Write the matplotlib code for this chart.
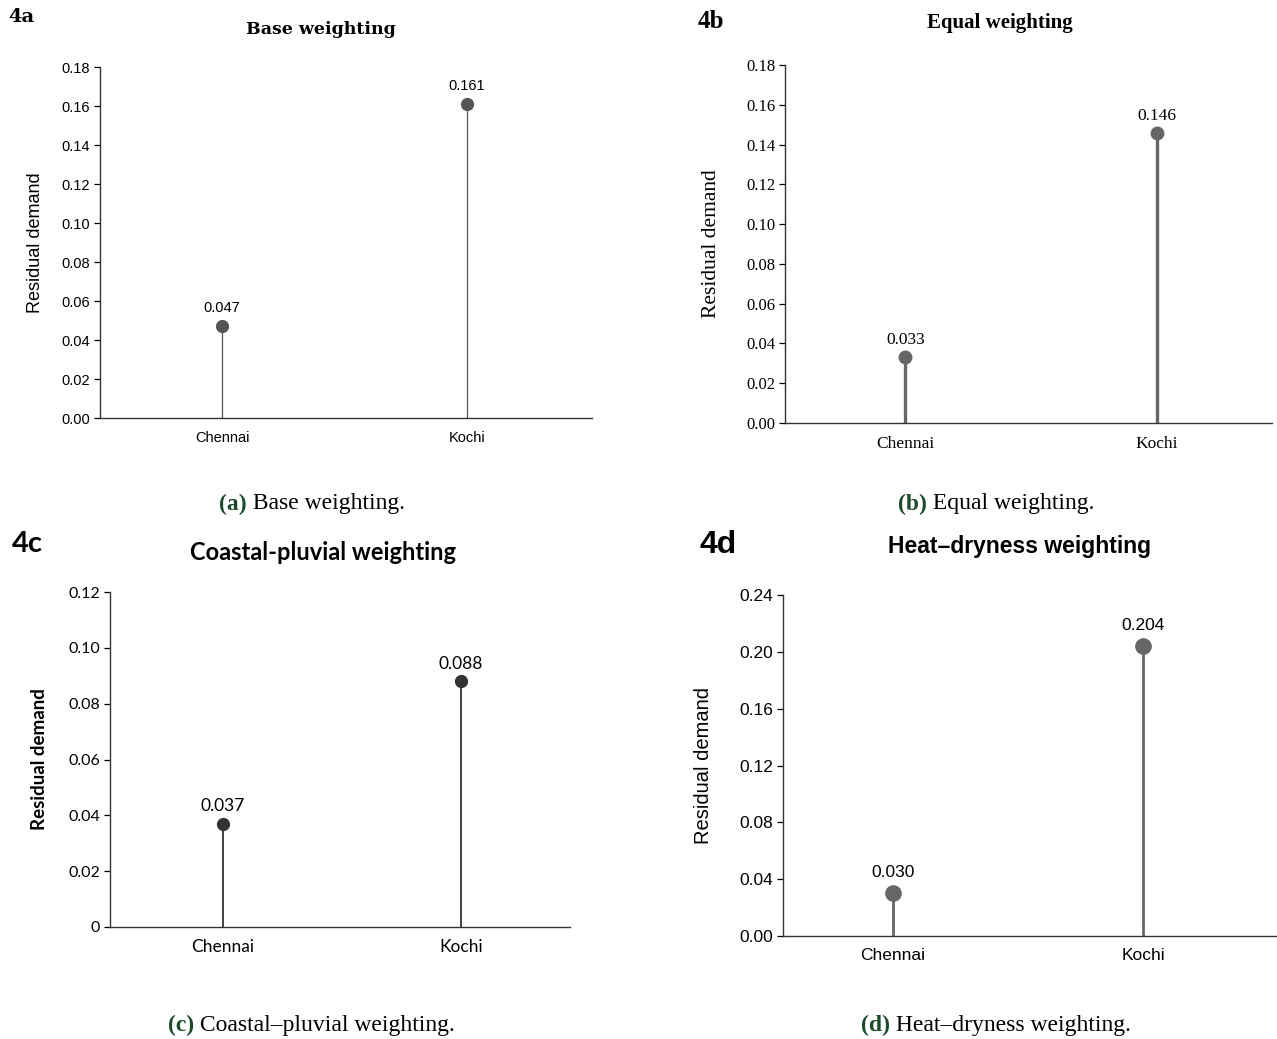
import matplotlib.pyplot as plt

# 데이터
cities = ["Chennai", "Kochi"]
base_vals = [0.047, 0.161]
equal_vals = [0.033, 0.146]
coastal_vals = [0.037, 0.088]
heat_vals = [0.030, 0.204]

base_ticks = [0.00, 0.02, 0.04, 0.06, 0.08, 0.10, 0.12, 0.14, 0.16, 0.18]
equal_ticks = [0.00, 0.02, 0.04, 0.06, 0.08, 0.10, 0.12, 0.14, 0.16, 0.18]
coastal_ticks = [0, 0.02, 0.04, 0.06, 0.08, 0.10, 0.12]
coastal_ticklabels = ["0", "0.02", "0.04", "0.06", "0.08", "0.10", "0.12"]
heat_ticks = [0.00, 0.04, 0.08, 0.12, 0.16, 0.20, 0.24]

W, H = 1277, 1039
fig = plt.figure(figsize=(W / 100, H / 100), dpi=100)


def px_axes(x0, x1, y_top, y_bot):
    return fig.add_axes([x0 / W, 1 - y_bot / H, (x1 - x0) / W, (y_bot - y_top) / H])


def lollipop(ax, vals, ticks, ticklabels, xlim, font, tick_size, val_size, lab_size,
             color, lw, ms, val_offset):
    x = list(range(len(vals)))
    ax.vlines(x, 0, vals, color=color, lw=lw, zorder=2)
    ax.plot(x, vals, "o", color=color, ms=ms, zorder=3)
    for xi, v in zip(x, vals):
        ax.annotate(f"{v:.3f}", (xi, v), xytext=(0, val_offset), textcoords="offset points",
                    ha="center", va="bottom", family=font, fontsize=val_size)
    ax.set_xlim(*xlim)
    ax.set_ylim(ticks[0], ticks[-1])
    ax.set_yticks(ticks)
    ax.set_yticklabels(ticklabels if ticklabels else [f"{t:.2f}" for t in ticks],
                       family=font, fontsize=tick_size)
    ax.set_xticks(x)
    ax.set_xticklabels(cities, family=font, fontsize=val_size)
    ax.tick_params(axis="x", length=0, pad=9)
    ax.tick_params(axis="y", length=4, width=0.9, direction="out", pad=3)
    for s in ["top", "right"]:
        ax.spines[s].set_visible(False)
    for s in ["left", "bottom"]:
        ax.spines[s].set_linewidth(1.0)
        ax.spines[s].set_color("#333333")
    ax.set_ylabel("Residual demand", family=font, fontsize=lab_size)


# (a)
ax = px_axes(100, 592, 67, 418)
lollipop(ax, base_vals, base_ticks, None, (-0.498, 1.51), "Liberation Sans", 10.5, 10.5, 13,
         "#555555", 0.9, 8.5, 8)
ax.yaxis.set_label_coords(-0.114, 0.5)
fig.text(8 / W, 1 - 17 / H, "4a", family="DejaVu Serif", weight="bold", fontsize=14, va="center")
fig.text(321 / W, 1 - 29 / H, "Base weighting", family="DejaVu Serif", weight="bold",
         fontsize=12.5, ha="center", va="center")

# (b)
ax = px_axes(785, 1272, 65, 423)
lollipop(ax, equal_vals, equal_ticks, None, (-0.48, 1.46), "Liberation Serif", 12, 12.5, 15.5,
         "#666666", 2.4, 9, 6.5)
ax.yaxis.set_label_coords(-0.131, 0.5)
fig.text(698 / W, 1 - 22 / H, "4b", family="Liberation Serif", weight="bold", fontsize=18, va="center")
fig.text(1000 / W, 1 - 23 / H, "Equal weighting", family="Liberation Serif", weight="bold",
         fontsize=15, ha="center", va="center")

# (c)
ax = px_axes(110, 570, 592, 927)
lollipop(ax, coastal_vals, coastal_ticks, coastal_ticklabels, (-0.475, 1.458), "Lato", 11.5, 12.5, 13.5,
         "#333333", 1.3, 8.5, 7)
ax.yaxis.label.set_weight("bold")
ax.yaxis.set_label_coords(-0.135, 0.5)
fig.text(12 / W, 1 - 544 / H, "4c", family="Lato", weight="bold", fontsize=21, va="center")
fig.text(323 / W, 1 - 552 / H, "Coastal-pluvial weighting", family="Lato", weight="bold",
         fontsize=17, ha="center", va="center")

# (d)
ax = px_axes(783, 1277, 595, 936)
lollipop(ax, heat_vals, heat_ticks, None, (-0.44, 1.536), "Liberation Sans", 12.5, 12.5, 14.5,
         "#666666", 2.0, 11, 9.5)
ax.yaxis.set_label_coords(-0.142, 0.5)
fig.text(700 / W, 1 - 545 / H, "4d", family="Liberation Sans", weight="bold", fontsize=23, va="center")
fig.text(1020 / W, 1 - 547 / H, "Heat\u2013dryness weighting", family="Liberation Sans", weight="bold",
         fontsize=16.5, ha="center", va="center")

# captions
captions = [("(a)", " Base weighting.", 312, 504),
            ("(b)", " Equal weighting.", 996, 504),
            ("(c)", " Coastal\u2013pluvial weighting.", 311, 1025),
            ("(d)", " Heat\u2013dryness weighting.", 996, 1025)]
r = fig.canvas.get_renderer()
for lab, rest, cx, cy in captions:
    t1 = fig.text(0, 1 - cy / H, lab, family="Liberation Serif", weight="bold",
                  color="#1c4a2a", fontsize=17, va="center")
    t2 = fig.text(0, 1 - cy / H, rest, family="Liberation Serif", fontsize=17, va="center")
    w1 = t1.get_window_extent(r).width
    w2 = t2.get_window_extent(r).width
    x0 = cx - (w1 + w2) / 2
    t1.set_x(x0 / W)
    t2.set_x((x0 + w1) / W)

fig.savefig("out.png", dpi=100)
